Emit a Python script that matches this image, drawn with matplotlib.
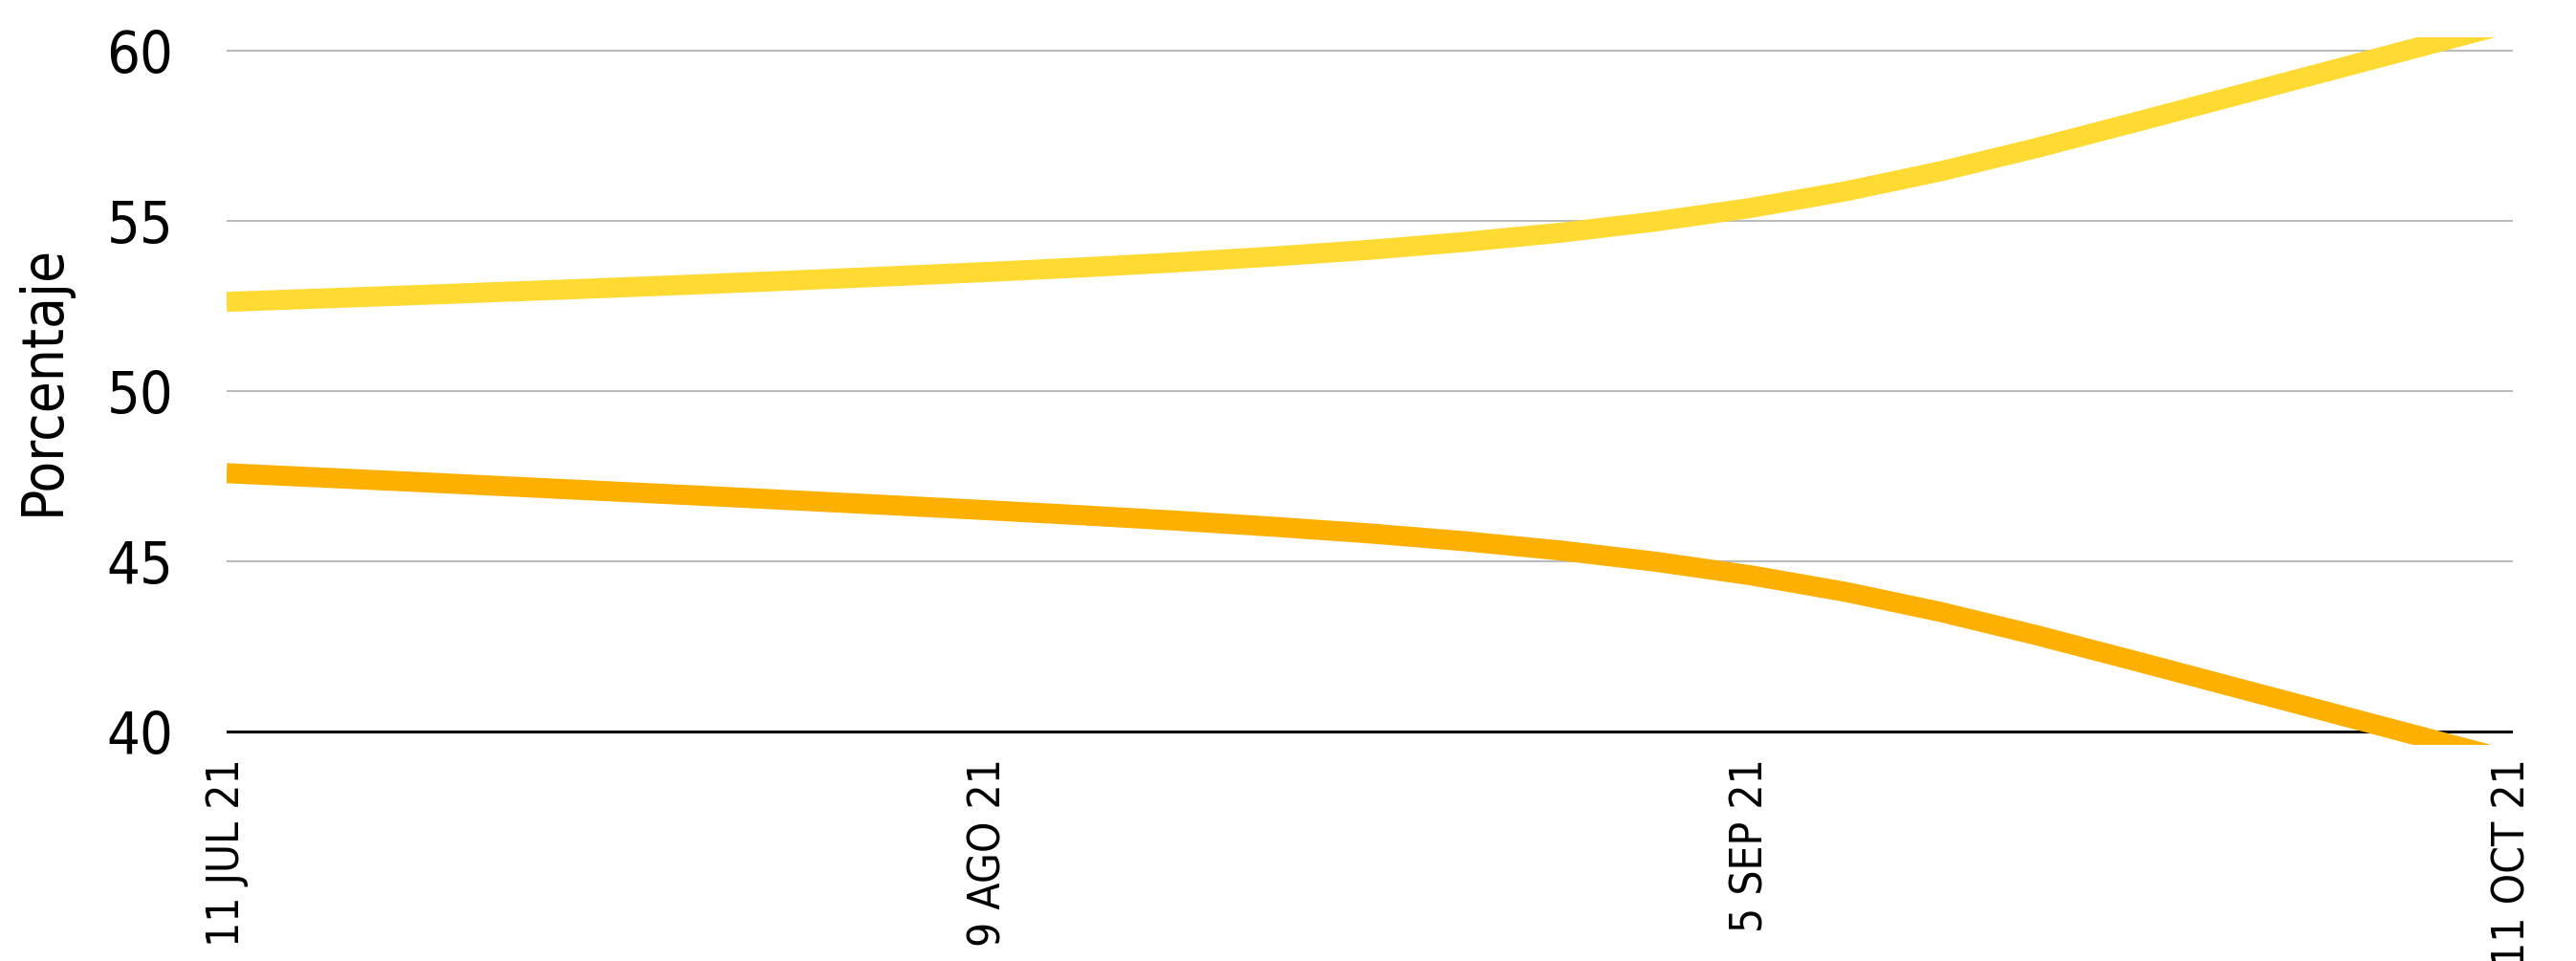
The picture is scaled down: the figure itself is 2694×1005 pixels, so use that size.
import os
import numpy as np
import matplotlib
matplotlib.use("Agg")
import matplotlib.pyplot as plt
from matplotlib import font_manager

# etiquetas del eje x (solo algunas fechas)
etiquetas = ['11 JUL 21', '9 AGO 21', '5 SEP 21', '11 OCT 21']

# posicion de cada observacion (indice)
idx = list(range(25))

# porcentaje serie amarilla (sube)
serie_a = [52.62, 52.72, 52.82, 52.925, 53.03, 53.14, 53.255, 53.375, 53.50,
           53.635, 53.785, 53.955, 54.15, 54.38, 54.65, 54.98, 55.38, 55.87,
           56.46, 57.14, 57.87, 58.61, 59.35, 60.09, 60.83]

# porcentaje serie naranja (baja)
serie_b = [47.59, 47.46, 47.33, 47.195, 47.06, 46.925, 46.785, 46.645, 46.50,
           46.35, 46.19, 46.015, 45.82, 45.59, 45.32, 44.99, 44.59, 44.10,
           43.51, 42.83, 42.10, 41.36, 40.62, 39.88, 39.14]

# buscar una fuente estrecha si hay alguna instalada
ruta = None
for f in font_manager.fontManager.ttflist:
    base = os.path.basename(f.fname)
    if ('Condensed' in base or 'Narrow' in base) and f.style == 'normal' and f.weight in (400, 'normal', 'regular'):
        if 'SemiCondensed' in base or 'ExtraCondensed' in base:
            continue
        ruta = f.fname
        break

if ruta:
    fuente = font_manager.FontProperties(fname=ruta)
else:
    fuente = font_manager.FontProperties(family='DejaVu Sans', stretch='condensed')

fig = plt.figure(figsize=(26.94, 10.05), dpi=100)
ax = fig.add_axes([237/2694, 1 - 779/1005, (2628 - 237)/2694, (779 - 39)/1005])

ax.plot(idx, serie_a, color='#FFDA33', linewidth=15.1, solid_capstyle='butt', zorder=3)
ax.plot(idx, serie_b, color='#FDB000', linewidth=15.1, solid_capstyle='butt', zorder=3)

ax.set_xlim(0, idx[-1])
ax.set_ylim(39.61, 60.39)

ax.set_yticks([40, 45, 50, 55, 60])
ax.set_yticklabels(['40', '45', '50', '55', '60'])
ax.set_xticks(np.linspace(0, idx[-1], len(etiquetas)))
ax.set_xticklabels(etiquetas, rotation=90, va='top', ha='center')
for t in ax.get_yticklabels():
    t.set_fontproperties(fuente)
    t.set_fontsize(44)
for t in ax.get_xticklabels():
    t.set_fontproperties(fuente)
    t.set_fontsize(33)
ax.tick_params(axis='both', length=0)
ax.tick_params(axis='y', pad=40)
ax.tick_params(axis='x', pad=10)

for s in ax.spines.values():
    s.set_visible(False)

for v in [45, 50, 55, 60]:
    ax.axhline(v, color='#bbbbbb', linewidth=1.5, zorder=1)
ax.axhline(40, color='black', linewidth=2.2, zorder=2)

ax.set_ylabel('Porcentaje', fontproperties=fuente, fontsize=43)
ax.yaxis.set_label_coords(-0.068, 0.515)

fig.savefig('out.png', dpi=100)
